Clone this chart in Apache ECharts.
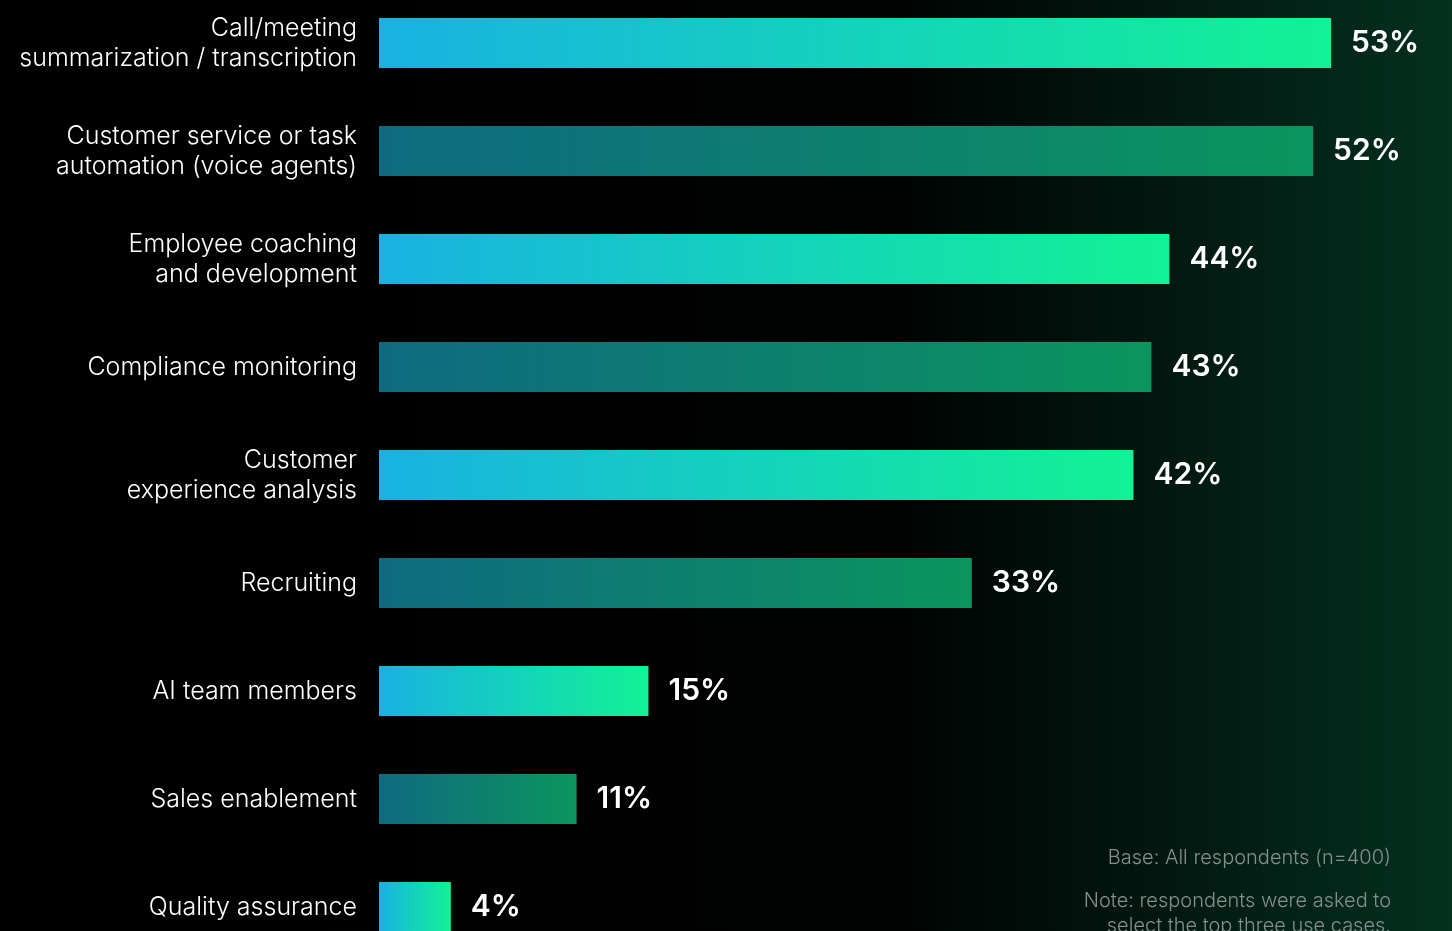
<!DOCTYPE html>
<html>
<head>
<meta charset="utf-8">
<script src="https://cdn.jsdelivr.net/npm/echarts@6/dist/echarts.min.js"></script>
<style>
  html, body { margin: 0; padding: 0; background: #000; overflow: hidden; width: 1452px; height: 931px; }
  /* The plot runs slightly past the top and bottom edges of the page */
  #chart { position: absolute; left: 0; top: -11px; width: 1452px; height: 972px; }
</style>
</head>
<body>
<div id="chart"></div>
<script>
// Use cases and share of respondents selecting them (%)
const categories = [
  'Call/meeting\nsummarization / transcription',
  'Customer service or task\nautomation (voice agents)',
  'Employee coaching\nand development',
  'Compliance monitoring',
  'Customer\nexperience analysis',
  'Recruiting',
  'AI team members',
  'Sales enablement',
  'Quality assurance'
];
const values = [53, 52, 44, 43, 42, 33, 15, 11, 4];
const footnotes = [
  'Base: All respondents (n=400)',
  'Note: respondents were asked to\nselect the top three use cases.'
];

const FONT = 'Inter, "Noto Sans", sans-serif';

// Alternate bright and muted gradients down the list
function barGradient(i) {
  const bright = i % 2 === 0;
  return new echarts.graphic.LinearGradient(0, 0, 1, 0, bright
    ? [{ offset: 0, color: '#18b2e2' }, { offset: 1, color: '#12f295' }]
    : [{ offset: 0, color: '#0f6a80' }, { offset: 1, color: '#0b955e' }]);
}

const chart = echarts.init(document.getElementById('chart'));
chart.setOption({
  backgroundColor: new echarts.graphic.LinearGradient(0, 0, 1, 0, [
    { offset: 0, color: '#000000' },
    { offset: 0.62, color: '#000302' },
    { offset: 0.82, color: '#021a12' },
    { offset: 1, color: '#04301f' }
  ]),
  animation: false,
  grid: { left: 379, right: 85, top: 0, bottom: 0, containLabel: false },
  xAxis: {
    type: 'value', min: 0, max: 55,
    show: false
  },
  yAxis: {
    type: 'category',
    data: categories,
    inverse: true,
    axisLine: { show: false },
    axisTick: { show: false },
    axisLabel: {
      color: '#ffffff',
      fontFamily: FONT,
      fontSize: 25,
      fontWeight: 300,
      lineHeight: 30,
      margin: 22,
      align: 'right'
    }
  },
  series: [{
    type: 'bar',
    barWidth: 50,
    data: values.map((v, i) => ({ value: v, itemStyle: { color: barGradient(i) } })),
    label: {
      show: true,
      position: 'right',
      distance: 20,
      color: '#ffffff',
      fontFamily: FONT,
      fontWeight: 600,
      fontSize: 30,
      formatter: p => p.value + '%'
    }
  }],
  graphic: [
    {
      type: 'text', right: 61, top: 859,
      style: { text: footnotes[0], fill: '#84908c', font: '300 20px ' + FONT, textAlign: 'right' }
    },
    {
      type: 'text', right: 61, top: 899,
      style: { text: footnotes[1], fill: '#84908c', font: '300 20px ' + FONT, lineHeight: 25, textAlign: 'right' }
    }
  ]
});
</script>
</body>
</html>
